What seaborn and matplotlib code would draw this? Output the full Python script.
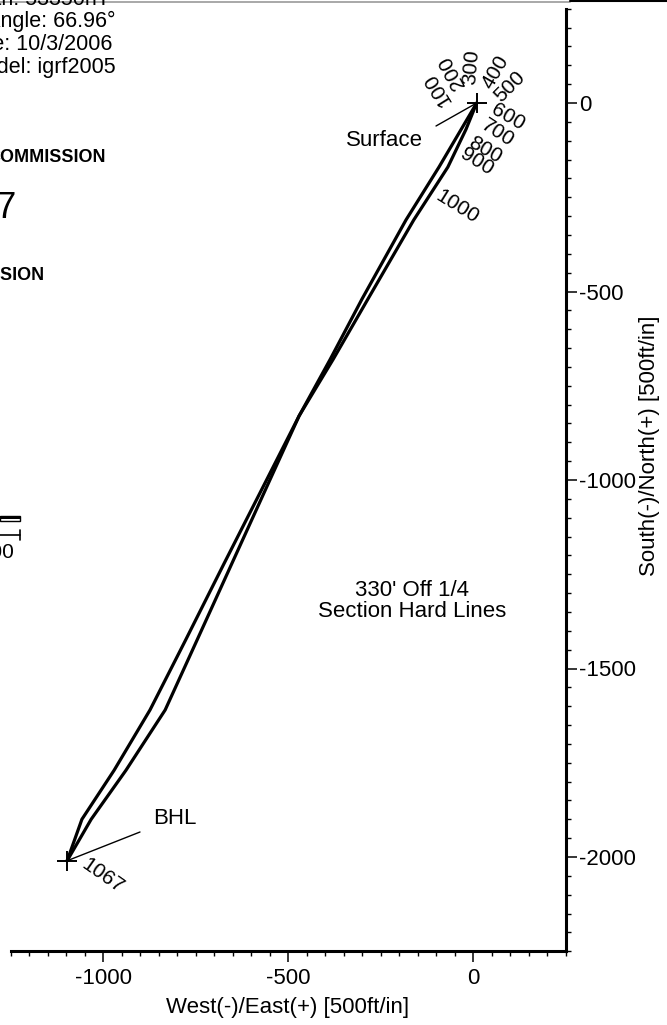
import matplotlib
matplotlib.use("Agg")
import matplotlib.pyplot as plt
from matplotlib.lines import Line2D
from matplotlib.patches import Rectangle
from matplotlib.ticker import MultipleLocator
import pandas as pd
import seaborn as sns

# well paths, ft (East +, North +)
path_ns = [0, -70, -170, -310, -520, -680, -830, -1000, -1220, -1425, -1610, -1770, -1900, -2010]
path_a_ew = [10, -32, -92, -181, -300, -386, -470, -549, -651, -746, -832, -938, -1032, -1097]
path_b_ew = [10, -19, -68, -160, -284, -378, -470, -558, -672, -777, -873, -970, -1057, -1097]

md_labels = ["100", "200", "300", "400", "500", "600", "700", "800", "900", "1000"]
x_ticks = [-1000, -500, 0]
y_ticks = [0, -500, -1000, -1500, -2000]

sns.set_theme(style="ticks")
plt.rcParams["font.family"] = ["Liberation Sans", "DejaVu Sans"]
plt.rcParams["text.color"] = "black"
plt.rcParams["axes.labelcolor"] = "black"

df = pd.concat([
    pd.DataFrame({"ew": path_a_ew, "ns": path_ns, "path": "a"}),
    pd.DataFrame({"ew": path_b_ew, "ns": path_ns, "path": "b"}),
])

W, H = 667, 1025
fig = plt.figure(figsize=(W / 100, H / 100), dpi=100)
ax = fig.add_axes([10.5 / W, 1 - 951.25 / H, 555 / W, 942.5 / H])

sns.lineplot(data=df, x="ew", y="ns", units="path", estimator=None, sort=False,
             color="black", lw=2.3, ax=ax)

# surface and BHL markers
ax.plot([path_a_ew[0], path_a_ew[-1]], [path_ns[0], path_ns[-1]], "+",
        color="black", ms=14, mew=1.4)

ax.set_xlim(-1250, 250)
ax.set_ylim(-2250, 250)
ax.xaxis.set_major_locator(plt.FixedLocator(x_ticks))
ax.yaxis.set_major_locator(plt.FixedLocator(y_ticks))
ax.xaxis.set_minor_locator(MultipleLocator(50))
ax.yaxis.set_minor_locator(MultipleLocator(50))
ax.set_xticklabels([str(v) for v in x_ticks])
ax.set_yticklabels([str(v) for v in y_ticks])

for s in ["left", "top"]:
    ax.spines[s].set_visible(False)
for s in ["right", "bottom"]:
    ax.spines[s].set_linewidth(2.2)
    ax.spines[s].set_color("black")
ax.yaxis.tick_right()
ax.yaxis.set_label_position("right")
ax.tick_params(which="major", length=8, width=1.1, colors="black", labelsize=16)
ax.tick_params(which="minor", length=3.5, width=1.0, colors="black")
ax.tick_params(axis="y", which="both", left=False, right=True, pad=1.5)
ax.tick_params(axis="x", pad=4)

ax.set_xlabel("West(-)/East(+) [500ft/in]", fontsize=16)
ax.set_ylabel("South(-)/North(+) [500ft/in]", fontsize=16, rotation=90)
ax.xaxis.set_label_coords(0.5, -0.06)
ax.yaxis.set_label_coords(1.152, 0.536)
ax.xaxis.label.set_va("center")
ax.yaxis.label.set_va("center")

ax.set_facecolor("white")
ax.grid(False)


def px(x, y):
    return (x - 473) / 0.370, -(y - 103) / 0.377


# measured depth labels around the surface location
md_pos = [(437, 89), (452, 72), (471, 67), (496, 72), (510, 87),
          (508, 117), (498, 133), (485, 150), (477, 162), (457, 207)]
md_rot = [122, 118, 85, 60, 45, -30, -33, -30, -32, -32]
for lab, (x, y), r in zip(md_labels, md_pos, md_rot):
    ax.text(*px(x, y), lab, rotation=r, ha="center", va="center", fontsize=15,
            rotation_mode="anchor")

surface = (path_a_ew[0], path_ns[0])
bhl = (path_a_ew[-1], path_ns[-1])
leader = dict(arrowstyle="-", lw=1.0, color="black", shrinkA=0, shrinkB=1)
ax.annotate("", xy=surface, xytext=px(436, 126), arrowprops=leader)
ax.text(*px(384, 140), "Surface", fontsize=16, ha="center", va="center")
ax.annotate("", xy=bhl, xytext=px(140, 832), arrowprops=leader)
ax.text(*px(175, 818), "BHL", fontsize=16, ha="center", va="center")
ax.text(*px(103, 876), "1067", rotation=-35, ha="center", va="center",
        fontsize=15, rotation_mode="anchor")
ax.text(*px(412, 601), "330' Off 1/4\nSection Hard Lines", ha="center",
        va="center", fontsize=16, linespacing=0.95)

# clipped remnants of the page header on the left edge
for txt, y, xr in [("Strength: 53350nT", 0, 110), ("Dip Angle: 66.96°", 21, 115),
                   ("Date: 10/3/2006", 44, 112), ("Model: igrf2005", 67, 116)]:
    fig.text(xr / W, 1 - y / H, txt, ha="right", va="center", fontsize=15.5)
fig.text(106 / W, 1 - 157 / H, "COMMISSION", ha="right", va="center",
         fontsize=13, fontweight="bold")
fig.text(17 / W, 1 - 208 / H, "2007", ha="right", va="center", fontsize=26)
fig.text(45 / W, 1 - 275 / H, "DIVISION", ha="right", va="center",
         fontsize=13, fontweight="bold")
fig.text(14 / W, 1 - 553 / H, "1000", ha="right", va="center", fontsize=15)
fig.patches.append(Rectangle((0, 1 - 521 / H), 20 / W, 5 / H, transform=fig.transFigure,
                             facecolor="white", edgecolor="black", lw=1.0))
fig.patches.append(Rectangle((0, 1 - 518.5 / H), 20 / W, 2.5 / H, transform=fig.transFigure,
                             facecolor="black", edgecolor="none"))
fig.lines.append(Line2D([0, 20 / W], [1 - 535 / H] * 2, transform=fig.transFigure,
                        color="black", lw=1.2))
fig.lines.append(Line2D([20 / W, 20 / W], [1 - 530 / H, 1 - 540 / H],
                        transform=fig.transFigure, color="black", lw=1.2))
fig.lines.append(Line2D([0, 570 / W], [1 - 1.5 / H] * 2, transform=fig.transFigure,
                        color="#999999", lw=1.2))
fig.lines.append(Line2D([570 / W, 1], [1 - 0.5 / H] * 2, transform=fig.transFigure,
                        color="black", lw=1.5))

fig.savefig("out.png", dpi=100, facecolor="white")
